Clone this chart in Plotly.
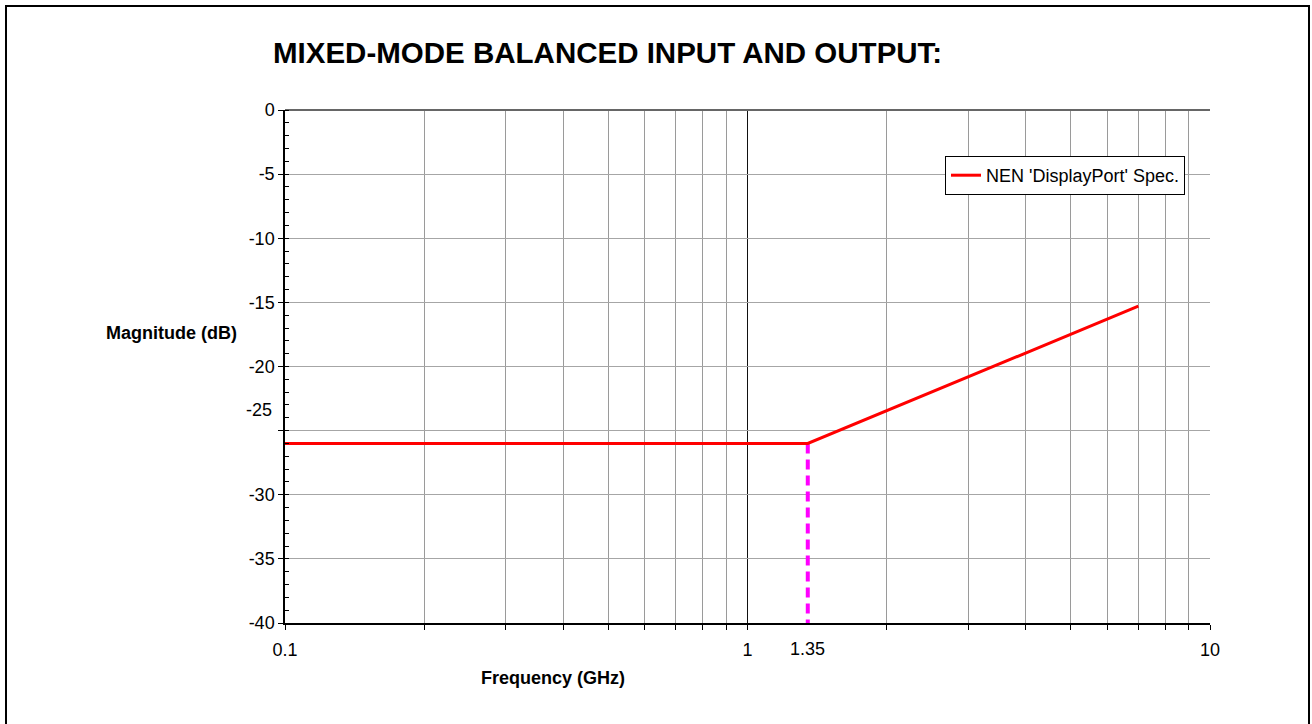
import math
import plotly.graph_objects as go

# Spec limit for mixed-mode balanced input/output
freq_ghz = [0.1, 1.35, 7.0]
magnitude_db = [-26.0, -26.0, -15.3]
series_name = "NEN 'DisplayPort' Spec."

# Break-point marker
break_freq = 1.35
break_db = [-26.0, -40.0]

# Axis ticks
x_major = [0.1, 1, 10]
x_major_text = ["0.1", "1", "10"]
x_minor = [0.2, 0.3, 0.4, 0.5, 0.6, 0.7, 0.8, 0.9, 2, 3, 4, 5, 6, 7, 8, 9]
y_major = [0, -5, -10, -15, -20, -25, -30, -35, -40]
y_major_text = ["0", "-5", "-10", "-15", "-20", "", "-30", "-35", "-40"]

title_text = "MIXED-MODE BALANCED INPUT AND OUTPUT:"
x_title = "Frequency (GHz)"
y_title = "Magnitude (dB)"

FONT = "Arial, 'Liberation Sans', sans-serif"
W, H = 1312, 724
L, R, T, B = 285, 102, 110, 101
PW, PH = W - L - R, H - T - B


def px_x(p):
    return (p - L) / PW


def px_y(p):
    return (H - B - p) / PH


fig = go.Figure()

fig.add_trace(go.Scatter(
    x=[break_freq, break_freq], y=break_db, mode="lines",
    line=dict(color="#FF00FF", width=4, dash="10px,6px"),
    showlegend=False, hoverinfo="skip",
))

fig.add_trace(go.Scatter(
    x=freq_ghz, y=magnitude_db, mode="lines", name=series_name,
    line=dict(color="#FF0000", width=3),
))

fig.update_xaxes(
    type="log", range=[-1, 1],
    tickmode="array", tickvals=x_major, ticktext=x_major_text,
    ticks="outside", ticklen=5, tickcolor="black",
    ticklabelstandoff=5,
    showgrid=True, gridcolor="#111111", gridwidth=1,
    showline=True, linecolor="black", linewidth=1.5,
    zeroline=False,
    tickfont=dict(family=FONT, size=18, color="black"),
    minor=dict(tickmode="array", tickvals=x_minor, ticks="outside", ticklen=5,
               tickcolor="black", showgrid=True, gridcolor="#9a9a9a", gridwidth=1),
)

fig.update_yaxes(
    range=[-40, 0],
    tickmode="array", tickvals=y_major, ticktext=y_major_text,
    ticks="outside", ticklen=5, tickcolor="black",
    showgrid=True, gridcolor="#a6a6a6", gridwidth=1,
    showline=True, linecolor="black", linewidth=1.5,
    zeroline=True, zerolinecolor="#666666", zerolinewidth=2,
    tickfont=dict(family=FONT, size=18, color="black"),
    minor=dict(dtick=1, ticks="inside", ticklen=4, tickcolor="black", showgrid=False),
)

annotations = [
    dict(text=f"<b>{title_text}</b>", xref="paper", yref="paper",
         x=px_x(271), y=px_y(53), xanchor="left", yanchor="middle",
         showarrow=False, font=dict(family=FONT, size=29.5, color="black")),
    dict(text=f"<b>{y_title}</b>", xref="paper", yref="paper",
         x=px_x(171), y=px_y(333), xanchor="center", yanchor="middle",
         showarrow=False, font=dict(family=FONT, size=18, color="black")),
    dict(text=f"<b>{x_title}</b>", xref="paper", yref="paper",
         x=px_x(553), y=px_y(678), xanchor="center", yanchor="middle",
         showarrow=False, font=dict(family=FONT, size=18, color="black")),
    dict(text="1.35", xref="x", yref="paper",
         x=math.log10(break_freq), y=px_y(649), xanchor="center", yanchor="middle",
         showarrow=False, font=dict(family=FONT, size=18, color="black")),
    dict(text="-25", xref="paper", yref="y",
         x=px_x(274), y=-25, yshift=21, xanchor="right", yanchor="middle",
         showarrow=False, font=dict(family=FONT, size=18, color="black")),
]

shapes = [
    dict(type="rect", xref="paper", yref="paper",
         x0=px_x(6), x1=px_x(1309), y0=px_y(6), y1=px_y(740),
         line=dict(color="black", width=2), fillcolor="rgba(0,0,0,0)", layer="below"),
]

fig.update_layout(
    width=W, height=H,
    margin=dict(l=L, r=R, t=T, b=B, pad=0),
    paper_bgcolor="white", plot_bgcolor="white",
    font=dict(family=FONT, size=18, color="black"),
    showlegend=True,
    legend=dict(
        x=px_x(945), y=px_y(156), xanchor="left", yanchor="top",
        bgcolor="white", bordercolor="black", borderwidth=1,
        font=dict(family=FONT, size=18, color="black"),
        itemwidth=30, entrywidth=245,
    ),
    annotations=annotations,
    shapes=shapes,
)

fig.write_html("out.html")
